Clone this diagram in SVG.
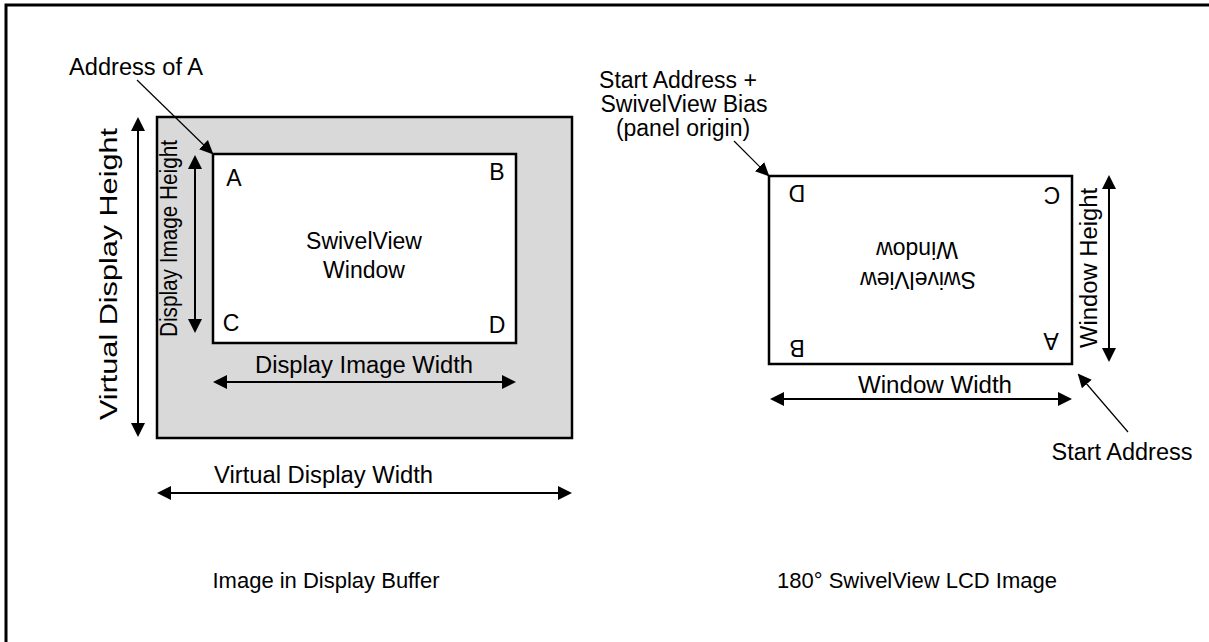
<svg xmlns="http://www.w3.org/2000/svg" width="1209" height="642" viewBox="0 0 1209 642">
<style>
text{font-family:"Liberation Sans",Arial,sans-serif;font-size:23px;fill:#000}
.cap{font-size:22px}
.dim{stroke:#000;stroke-width:2;fill:none;marker-start:url(#ah);marker-end:url(#ah)}
.lead{stroke:#000;stroke-width:1.2;fill:none;marker-end:url(#ahs)}
.box{stroke:#000;stroke-width:2.5}
</style>
<defs>
<marker id="ah" viewBox="0 0 14 14" refX="10" refY="7" markerWidth="14" markerHeight="14" markerUnits="userSpaceOnUse" orient="auto-start-reverse"><path d="M0,0L14,7L0,14z" fill="#000"/></marker>
<marker id="ahs" viewBox="0 0 14 14" refX="12" refY="7" markerWidth="14" markerHeight="14" markerUnits="userSpaceOnUse" orient="auto"><path d="M0,0.5L14,7L0,13.5z" fill="#000"/></marker>
</defs>
<rect width="1209" height="642" fill="#fff"/>
<rect x="6" y="5" width="1220" height="660" fill="none" stroke="#000" stroke-width="3"/>

<g id="buffer">
<rect class="box" x="157" y="117" width="415" height="321" fill="#d9d9d9"/>
</g>
<g id="window-left">
<rect class="box" x="213" y="154" width="303" height="189" fill="#fff"/>
<text x="234" y="186" text-anchor="middle">A</text>
<text x="497" y="180" text-anchor="middle">B</text>
<text x="231" y="331" text-anchor="middle">C</text>
<text x="497" y="333" text-anchor="middle">D</text>
<text x="364" y="249" text-anchor="middle">SwivelView</text>
<text x="364" y="278" text-anchor="middle">Window</text>
</g>
<g id="window-right">
<rect class="box" x="769" y="176" width="303" height="188" fill="#fff"/>
<text x="797" y="185" text-anchor="middle" transform="rotate(180 797 185)">D</text>
<text x="1052" y="187" text-anchor="middle" transform="rotate(180 1052 187)">C</text>
<text x="797" y="340" text-anchor="middle" transform="rotate(180 797 340)">B</text>
<text x="1051" y="333" text-anchor="middle" transform="rotate(180 1051 333)">A</text>
<text x="917" y="242" text-anchor="middle" transform="rotate(180 917 242)">Window</text>
<text x="918" y="272" text-anchor="middle" transform="rotate(180 918 272)">SwivelView</text>
</g>

<g id="connectors">
<line class="dim" x1="138" y1="121" x2="138" y2="433"/>
<line class="dim" x1="195" y1="159" x2="195" y2="329"/>
<line class="dim" x1="217" y1="382" x2="512" y2="382"/>
<line class="dim" x1="161" y1="493" x2="568" y2="493"/>
<line class="dim" x1="1109" y1="179" x2="1109" y2="358"/>
<line class="dim" x1="774" y1="399" x2="1068" y2="399"/>
<line class="lead" x1="137" y1="80" x2="212" y2="153"/>
<line class="lead" x1="734" y1="141" x2="768" y2="175"/>
<line class="lead" x1="1128" y1="432" x2="1079" y2="375"/>
</g>

<g id="labels">
<text x="69" y="75" textLength="134" lengthAdjust="spacingAndGlyphs">Address of A</text>
<text x="117" y="274" text-anchor="middle" transform="rotate(-90 117 274)" textLength="292" lengthAdjust="spacingAndGlyphs">Virtual Display Height</text>
<text x="177" y="238.5" text-anchor="middle" transform="rotate(-90 177 238.5)" textLength="197" lengthAdjust="spacingAndGlyphs">Display Image Height</text>
<text x="364" y="373" text-anchor="middle" textLength="218" lengthAdjust="spacingAndGlyphs">Display Image Width</text>
<text x="323.5" y="483" text-anchor="middle" textLength="219" lengthAdjust="spacingAndGlyphs">Virtual Display Width</text>
<text x="1097" y="268" text-anchor="middle" transform="rotate(-90 1097 268)" textLength="160" lengthAdjust="spacingAndGlyphs">Window Height</text>
<text x="935" y="393" text-anchor="middle" textLength="154" lengthAdjust="spacingAndGlyphs">Window Width</text>
<text x="1122" y="460" text-anchor="middle" textLength="141" lengthAdjust="spacingAndGlyphs">Start Address</text>
<text x="678" y="88" text-anchor="middle">Start Address +</text>
<text x="684" y="112" text-anchor="middle">SwivelView Bias</text>
<text x="683" y="136" text-anchor="middle">(panel origin)</text>
<text class="cap" x="326" y="588" text-anchor="middle">Image in Display Buffer</text>
<text class="cap" x="917" y="588" text-anchor="middle">180° SwivelView LCD Image</text>
</g>
</svg>
